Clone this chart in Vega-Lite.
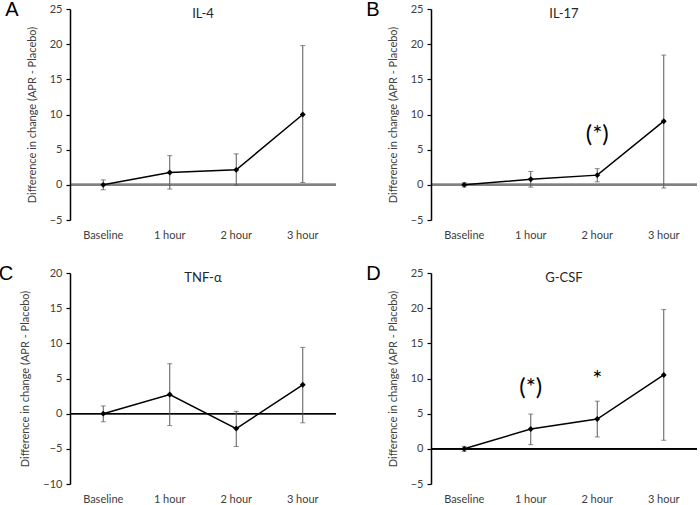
{
  "$schema": "https://vega.github.io/schema/vega-lite/v6.json",
  "padding": {"left": -2, "top": 0, "right": 2, "bottom": 2},
  "background": "white",
  "datasets": {
    "vals": [
      {"panel": "A", "time": "Baseline", "mean": 0, "lo": -0.7, "hi": 0.7},
      {"panel": "A", "time": "1 hour", "mean": 1.75, "lo": -0.6, "hi": 4.15},
      {"panel": "A", "time": "2 hour", "mean": 2.13, "lo": -0.05, "hi": 4.4},
      {"panel": "A", "time": "3 hour", "mean": 10.0, "lo": 0.33, "hi": 19.8},
      {"panel": "B", "time": "Baseline", "mean": 0, "lo": -0.3, "hi": 0.3},
      {"panel": "B", "time": "1 hour", "mean": 0.8, "lo": -0.33, "hi": 1.9},
      {"panel": "B", "time": "2 hour", "mean": 1.38, "lo": 0.43, "hi": 2.3},
      {"panel": "B", "time": "3 hour", "mean": 9.05, "lo": -0.45, "hi": 18.45},
      {"panel": "C", "time": "Baseline", "mean": 0, "lo": -1.15, "hi": 1.1},
      {"panel": "C", "time": "1 hour", "mean": 2.73, "lo": -1.7, "hi": 7.1},
      {"panel": "C", "time": "2 hour", "mean": -2.12, "lo": -4.66, "hi": 0.33},
      {"panel": "C", "time": "3 hour", "mean": 4.1, "lo": -1.3, "hi": 9.42},
      {"panel": "D", "time": "Baseline", "mean": 0, "lo": -0.35, "hi": 0.35},
      {"panel": "D", "time": "1 hour", "mean": 2.82, "lo": 0.6, "hi": 4.94},
      {"panel": "D", "time": "2 hour", "mean": 4.24, "lo": 1.69, "hi": 6.78},
      {"panel": "D", "time": "3 hour", "mean": 10.5, "lo": 1.22, "hi": 19.8}
    ],
    "ann": [
      {"panel": "B", "time": "2 hour", "y": 7.1, "label": "(*)"},
      {"panel": "D", "time": "1 hour", "y": 8.6, "label": "(*)"},
      {"panel": "D", "time": "2 hour", "y": 9.8, "label": "*"}
    ]
  },
  "config": {
    "view": {"stroke": null},
    "font": "Lato",
    "title": {"font": "Lato", "fontWeight": "normal", "color": "#262626"},
    "axisX": {
      "domain": false,
      "ticks": false,
      "grid": false,
      "labelAngle": 0,
      "labelFont": "Lato",
      "labelFontSize": 11,
      "labelColor": "#404040",
      "labelPadding": 9
    }
  },
  "columns": 2,
  "spacing": {"row": 24, "column": 29},
  "concat": [
    {
      "title": {"text": "A", "anchor": "start", "frame": "bounds", "fontSize": 20, "font": "Liberation Sans", "color": "#000000", "offset": 0, "dx": -21, "dy": 17},
      "vconcat": [{
        "width": 266, "height": 211,
        "title": {"text": "IL-4", "fontSize": 13, "offset": -18},
        "data": {"name": "vals"},
        "transform": [{"filter": "datum.panel === 'A'"}],
        "encoding": {
          "y": {"field": "mean", "type": "quantitative", "scale": {"domain": [-5, 25], "nice": false, "zero": false},
            "axis": {"values": [-5, 0, 5, 10, 15, 20, 25], "title": "Difference in change (APR - Placebo)", "zindex": 2, "grid": false, "domain": true, "domainColor": "#000000", "domainWidth": 1.5, "domainOpacity": 1, "ticks": true, "tickColor": "#000000", "tickWidth": 1.2, "tickSize": 4, "tickOpacity": 1, "labelOverlap": false, "labelFlush": false, "labelFont": "Lato", "labelFontSize": 11, "labelColor": "#404040", "labelPadding": 4, "titleFont": "Lato", "titleFontSize": 11, "titleFontWeight": "normal", "titleColor": "#404040", "titlePadding": 12}}
        },
        "layer": [
          {"mark": {"type": "rule", "color": "#808080", "strokeWidth": 2}, "encoding": {"y": {"datum": 0, "type": "quantitative"}}},
          {"mark": {"type": "rule", "color": "#595959", "strokeWidth": 1},
           "encoding": {"x": {"field": "time", "type": "nominal", "sort": ["Baseline", "1 hour", "2 hour", "3 hour"], "scale": {"paddingInner": 0, "paddingOuter": 0}, "title": null}, "y": {"field": "lo", "type": "quantitative"}, "y2": {"field": "hi"}}},
          {"mark": {"type": "tick", "color": "#595959", "size": 5, "thickness": 1, "orient": "horizontal"},
           "encoding": {"x": {"field": "time", "type": "nominal", "sort": ["Baseline", "1 hour", "2 hour", "3 hour"]}, "y": {"field": "lo", "type": "quantitative"}}},
          {"mark": {"type": "tick", "color": "#595959", "size": 5, "thickness": 1, "orient": "horizontal"},
           "encoding": {"x": {"field": "time", "type": "nominal", "sort": ["Baseline", "1 hour", "2 hour", "3 hour"]}, "y": {"field": "hi", "type": "quantitative"}}},
          {"mark": {"type": "line", "color": "#000000", "strokeWidth": 1.5},
           "encoding": {"x": {"field": "time", "type": "nominal", "sort": ["Baseline", "1 hour", "2 hour", "3 hour"]}}},
          {"mark": {"type": "point", "shape": "diamond", "filled": true, "color": "#000000", "size": 35, "opacity": 1},
           "encoding": {"x": {"field": "time", "type": "nominal", "sort": ["Baseline", "1 hour", "2 hour", "3 hour"]}}}
        ]
      }]
    },
    {
      "title": {"text": "B", "anchor": "start", "frame": "bounds", "fontSize": 20, "font": "Liberation Sans", "color": "#000000", "offset": 0, "dx": -21, "dy": 17},
      "vconcat": [{
        "width": 266, "height": 211,
        "title": {"text": "IL-17", "fontSize": 13, "offset": -18},
        "encoding": {
          "y": {"field": "mean", "type": "quantitative", "scale": {"domain": [-5, 25], "nice": false, "zero": false},
            "axis": {"values": [-5, 0, 5, 10, 15, 20, 25], "title": "Difference in change (APR - Placebo)", "zindex": 2, "grid": false, "domain": true, "domainColor": "#000000", "domainWidth": 1.5, "domainOpacity": 1, "ticks": true, "tickColor": "#000000", "tickWidth": 1.2, "tickSize": 4, "tickOpacity": 1, "labelOverlap": false, "labelFlush": false, "labelFont": "Lato", "labelFontSize": 11, "labelColor": "#404040", "labelPadding": 4, "titleFont": "Lato", "titleFontSize": 11, "titleFontWeight": "normal", "titleColor": "#404040", "titlePadding": 12}}
        },
        "layer": [
          {"data": {"name": "vals"}, "transform": [{"filter": "datum.panel === 'B'"}], "mark": {"type": "rule", "color": "#808080", "strokeWidth": 2}, "encoding": {"y": {"datum": 0, "type": "quantitative"}}},
          {"data": {"name": "vals"}, "transform": [{"filter": "datum.panel === 'B'"}], "mark": {"type": "rule", "color": "#595959", "strokeWidth": 1},
           "encoding": {"x": {"field": "time", "type": "nominal", "sort": ["Baseline", "1 hour", "2 hour", "3 hour"], "scale": {"paddingInner": 0, "paddingOuter": 0}, "title": null}, "y": {"field": "lo", "type": "quantitative"}, "y2": {"field": "hi"}}},
          {"data": {"name": "vals"}, "transform": [{"filter": "datum.panel === 'B'"}], "mark": {"type": "tick", "color": "#595959", "size": 5, "thickness": 1, "orient": "horizontal"},
           "encoding": {"x": {"field": "time", "type": "nominal", "sort": ["Baseline", "1 hour", "2 hour", "3 hour"]}, "y": {"field": "lo", "type": "quantitative"}}},
          {"data": {"name": "vals"}, "transform": [{"filter": "datum.panel === 'B'"}], "mark": {"type": "tick", "color": "#595959", "size": 5, "thickness": 1, "orient": "horizontal"},
           "encoding": {"x": {"field": "time", "type": "nominal", "sort": ["Baseline", "1 hour", "2 hour", "3 hour"]}, "y": {"field": "hi", "type": "quantitative"}}},
          {"data": {"name": "vals"}, "transform": [{"filter": "datum.panel === 'B'"}], "mark": {"type": "line", "color": "#000000", "strokeWidth": 1.5},
           "encoding": {"x": {"field": "time", "type": "nominal", "sort": ["Baseline", "1 hour", "2 hour", "3 hour"]}}},
          {"data": {"name": "vals"}, "transform": [{"filter": "datum.panel === 'B'"}], "mark": {"type": "point", "shape": "diamond", "filled": true, "color": "#000000", "size": 35, "opacity": 1},
           "encoding": {"x": {"field": "time", "type": "nominal", "sort": ["Baseline", "1 hour", "2 hour", "3 hour"]}}},
          {"data": {"name": "ann"}, "transform": [{"filter": "datum.panel === 'B'"}], "mark": {"type": "text", "fontSize": 24, "font": "Lato", "color": "#000000", "baseline": "middle"},
           "encoding": {"x": {"field": "time", "type": "nominal", "sort": ["Baseline", "1 hour", "2 hour", "3 hour"]}, "y": {"field": "y", "type": "quantitative"}, "text": {"field": "label"}}}
        ]
      }]
    },
    {
      "title": {"text": "C", "anchor": "start", "frame": "bounds", "fontSize": 20, "font": "Liberation Sans", "color": "#000000", "offset": 0, "dx": -21, "dy": 17},
      "vconcat": [{
        "width": 266, "height": 211,
        "title": {"text": "TNF-α", "fontSize": 13, "offset": -18},
        "data": {"name": "vals"},
        "transform": [{"filter": "datum.panel === 'C'"}],
        "encoding": {
          "y": {"field": "mean", "type": "quantitative", "scale": {"domain": [-10, 20], "nice": false, "zero": false},
            "axis": {"values": [-10, -5, 0, 5, 10, 15, 20], "title": "Difference in change (APR - Placebo)", "zindex": 2, "grid": false, "domain": true, "domainColor": "#000000", "domainWidth": 1.5, "domainOpacity": 1, "ticks": true, "tickColor": "#000000", "tickWidth": 1.2, "tickSize": 4, "tickOpacity": 1, "labelOverlap": false, "labelFlush": false, "labelFont": "Lato", "labelFontSize": 11, "labelColor": "#404040", "labelPadding": 4, "titleFont": "Lato", "titleFontSize": 11, "titleFontWeight": "normal", "titleColor": "#404040", "titlePadding": 12}}
        },
        "layer": [
          {"mark": {"type": "rule", "color": "#000000", "strokeWidth": 1.3}, "encoding": {"y": {"datum": 0, "type": "quantitative"}}},
          {"mark": {"type": "rule", "color": "#595959", "strokeWidth": 1},
           "encoding": {"x": {"field": "time", "type": "nominal", "sort": ["Baseline", "1 hour", "2 hour", "3 hour"], "scale": {"paddingInner": 0, "paddingOuter": 0}, "title": null}, "y": {"field": "lo", "type": "quantitative"}, "y2": {"field": "hi"}}},
          {"mark": {"type": "tick", "color": "#595959", "size": 5, "thickness": 1, "orient": "horizontal"},
           "encoding": {"x": {"field": "time", "type": "nominal", "sort": ["Baseline", "1 hour", "2 hour", "3 hour"]}, "y": {"field": "lo", "type": "quantitative"}}},
          {"mark": {"type": "tick", "color": "#595959", "size": 5, "thickness": 1, "orient": "horizontal"},
           "encoding": {"x": {"field": "time", "type": "nominal", "sort": ["Baseline", "1 hour", "2 hour", "3 hour"]}, "y": {"field": "hi", "type": "quantitative"}}},
          {"mark": {"type": "line", "color": "#000000", "strokeWidth": 1.5},
           "encoding": {"x": {"field": "time", "type": "nominal", "sort": ["Baseline", "1 hour", "2 hour", "3 hour"]}}},
          {"mark": {"type": "point", "shape": "diamond", "filled": true, "color": "#000000", "size": 35, "opacity": 1},
           "encoding": {"x": {"field": "time", "type": "nominal", "sort": ["Baseline", "1 hour", "2 hour", "3 hour"]}}}
        ]
      }]
    },
    {
      "title": {"text": "D", "anchor": "start", "frame": "bounds", "fontSize": 20, "font": "Liberation Sans", "color": "#000000", "offset": 0, "dx": -21, "dy": 17},
      "vconcat": [{
        "width": 266, "height": 211,
        "title": {"text": "G-CSF", "fontSize": 13, "offset": -18},
        "encoding": {
          "y": {"field": "mean", "type": "quantitative", "scale": {"domain": [-5, 25], "nice": false, "zero": false},
            "axis": {"values": [-5, 0, 5, 10, 15, 20, 25], "title": "Difference in change (APR - Placebo)", "zindex": 2, "grid": false, "domain": true, "domainColor": "#000000", "domainWidth": 1.5, "domainOpacity": 1, "ticks": true, "tickColor": "#000000", "tickWidth": 1.2, "tickSize": 4, "tickOpacity": 1, "labelOverlap": false, "labelFlush": false, "labelFont": "Lato", "labelFontSize": 11, "labelColor": "#404040", "labelPadding": 4, "titleFont": "Lato", "titleFontSize": 11, "titleFontWeight": "normal", "titleColor": "#404040", "titlePadding": 12}}
        },
        "layer": [
          {"data": {"name": "vals"}, "transform": [{"filter": "datum.panel === 'D'"}], "mark": {"type": "rule", "color": "#000000", "strokeWidth": 1.3}, "encoding": {"y": {"datum": 0, "type": "quantitative"}}},
          {"data": {"name": "vals"}, "transform": [{"filter": "datum.panel === 'D'"}], "mark": {"type": "rule", "color": "#595959", "strokeWidth": 1},
           "encoding": {"x": {"field": "time", "type": "nominal", "sort": ["Baseline", "1 hour", "2 hour", "3 hour"], "scale": {"paddingInner": 0, "paddingOuter": 0}, "title": null}, "y": {"field": "lo", "type": "quantitative"}, "y2": {"field": "hi"}}},
          {"data": {"name": "vals"}, "transform": [{"filter": "datum.panel === 'D'"}], "mark": {"type": "tick", "color": "#595959", "size": 5, "thickness": 1, "orient": "horizontal"},
           "encoding": {"x": {"field": "time", "type": "nominal", "sort": ["Baseline", "1 hour", "2 hour", "3 hour"]}, "y": {"field": "lo", "type": "quantitative"}}},
          {"data": {"name": "vals"}, "transform": [{"filter": "datum.panel === 'D'"}], "mark": {"type": "tick", "color": "#595959", "size": 5, "thickness": 1, "orient": "horizontal"},
           "encoding": {"x": {"field": "time", "type": "nominal", "sort": ["Baseline", "1 hour", "2 hour", "3 hour"]}, "y": {"field": "hi", "type": "quantitative"}}},
          {"data": {"name": "vals"}, "transform": [{"filter": "datum.panel === 'D'"}], "mark": {"type": "line", "color": "#000000", "strokeWidth": 1.5},
           "encoding": {"x": {"field": "time", "type": "nominal", "sort": ["Baseline", "1 hour", "2 hour", "3 hour"]}}},
          {"data": {"name": "vals"}, "transform": [{"filter": "datum.panel === 'D'"}], "mark": {"type": "point", "shape": "diamond", "filled": true, "color": "#000000", "size": 35, "opacity": 1},
           "encoding": {"x": {"field": "time", "type": "nominal", "sort": ["Baseline", "1 hour", "2 hour", "3 hour"]}}},
          {"data": {"name": "ann"}, "transform": [{"filter": "datum.panel === 'D'"}], "mark": {"type": "text", "fontSize": 24, "font": "Lato", "color": "#000000", "baseline": "middle"},
           "encoding": {"x": {"field": "time", "type": "nominal", "sort": ["Baseline", "1 hour", "2 hour", "3 hour"]}, "y": {"field": "y", "type": "quantitative"}, "text": {"field": "label"}}}
        ]
      }]
    }
  ]
}
